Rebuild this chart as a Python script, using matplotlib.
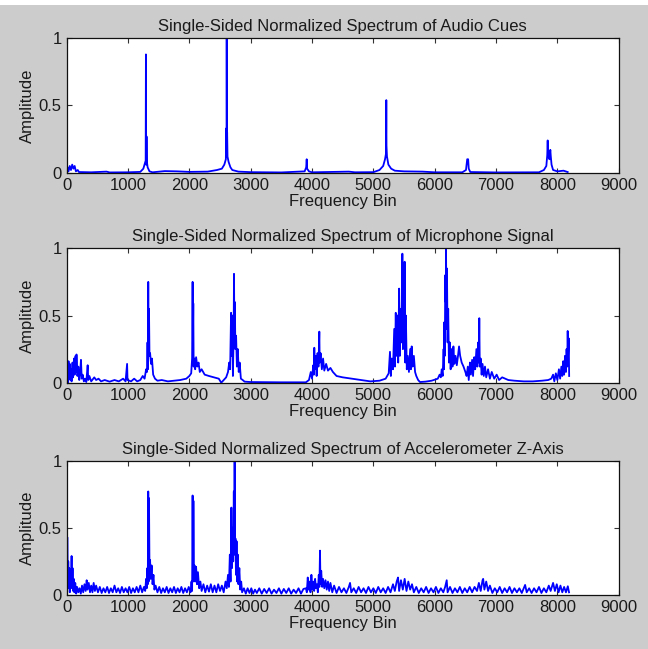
import matplotlib
matplotlib.use("Agg")
import matplotlib.pyplot as plt
from matplotlib.patches import Rectangle

# ---- data (frequency bin, normalized amplitude) ----
titles = ["Single-Sided Normalized Spectrum of Audio Cues",
          "Single-Sided Normalized Spectrum of Microphone Signal",
          "Single-Sided Normalized Spectrum of Accelerometer Z-Axis"]
x_ticks = [0, 1000, 2000, 3000, 4000, 5000, 6000, 7000, 8000, 9000]
y_ticks = [0, 0.5, 1]
y_tick_labels = ["0", "0.5", "1"]

audio = [(0, 0.02), (15, 0.04), (30, 0.01), (50, 0.05), (70, 0.02), (90, 0.06), (110, 0.03),
         (130, 0.05), (150, 0.01), (180, 0.02), (200, 0.005), (400, 0.003), (650, 0.008),
         (700, 0.002), (1000, 0.003), (1200, 0.006), (1250, 0.03), (1275, 0.07), (1288, 0.09),
         (1292, 0.88), (1296, 0.06), (1302, 0.27), (1308, 0.08), (1320, 0.04), (1350, 0.01),
         (1400, 0.003), (1600, 0.012), (1800, 0.01), (2000, 0.006), (2300, 0.008), (2450, 0.02),
         (2530, 0.03), (2570, 0.06), (2595, 0.1), (2603, 0.33), (2607, 0.15), (2609, 1.0),
         (2612, 0.2), (2616, 0.3), (2622, 0.12), (2640, 0.08), (2670, 0.04), (2700, 0.02),
         (2800, 0.008), (3000, 0.004), (3500, 0.002), (3880, 0.01), (3905, 0.04), (3913, 0.1),
         (3920, 0.03), (3950, 0.01), (4000, 0.003), (4600, 0.008), (4700, 0.003), (5000, 0.004),
         (5100, 0.02), (5160, 0.05), (5190, 0.1), (5205, 0.14), (5209, 0.36), (5211, 0.54),
         (5214, 0.2), (5222, 0.12), (5245, 0.06), (5290, 0.03), (5350, 0.015), (5500, 0.01),
         (5800, 0.008), (6000, 0.003), (6450, 0.003), (6510, 0.02), (6530, 0.1), (6545, 0.1),
         (6555, 0.03), (6580, 0.005), (7000, 0.002), (7700, 0.003), (7780, 0.02), (7820, 0.05),
         (7835, 0.13), (7842, 0.24), (7848, 0.12), (7860, 0.13), (7870, 0.1), (7885, 0.17),
         (7893, 0.12), (7905, 0.06), (7930, 0.02), (8000, 0.01), (8100, 0.015), (8168, 0.005)]

mic = [(0, 0.16), (8, 0.02), (16, 0.12), (24, 0.0), (30, 0.16), (40, 0.05), (50, 0.14), (60, 0.02),
       (70, 0.1), (80, 0.01), (95, 0.15), (105, 0.04), (120, 0.18), (130, 0.06), (145, 0.2),
       (152, 0.08), (160, 0.21), (175, 0.05), (190, 0.12), (205, 0.02), (220, 0.08), (233, 0.17),
       (245, 0.03), (260, 0.06), (280, 0.01), (300, 0.03), (320, 0.005), (342, 0.13), (352, 0.02),
       (370, 0.05), (400, 0.01), (450, 0.04), (480, 0.02), (520, 0.03), (560, 0.01), (620, 0.02),
       (700, 0.008), (780, 0.02), (850, 0.01), (920, 0.03), (960, 0.01), (985, 0.14), (992, 0.02),
       (1050, 0.01), (1100, 0.03), (1150, 0.01), (1200, 0.02), (1240, 0.05), (1270, 0.03),
       (1295, 0.1), (1310, 0.08), (1318, 0.3), (1324, 0.1), (1330, 0.75), (1336, 0.22),
       (1342, 0.55), (1350, 0.2), (1360, 0.22), (1375, 0.14), (1390, 0.18), (1410, 0.06),
       (1440, 0.03), (1480, 0.015), (1550, 0.02), (1650, 0.01), (1750, 0.015), (1850, 0.02),
       (1950, 0.03), (2000, 0.05), (2030, 0.07), (2045, 0.18), (2053, 0.75), (2058, 0.3),
       (2064, 0.59), (2070, 0.12), (2080, 0.18), (2095, 0.1), (2110, 0.19), (2130, 0.12),
       (2150, 0.15), (2170, 0.08), (2200, 0.1), (2250, 0.06), (2320, 0.05), (2400, 0.04),
       (2480, 0.03), (2520, 0.0), (2560, 0.02), (2600, 0.04), (2630, 0.08), (2650, 0.15),
       (2665, 0.1), (2680, 0.52), (2690, 0.2), (2700, 0.5), (2710, 0.05), (2722, 0.35),
       (2728, 0.81), (2735, 0.3), (2742, 0.6), (2750, 0.25), (2762, 0.35), (2775, 0.12),
       (2790, 0.25), (2805, 0.08), (2820, 0.15), (2840, 0.03), (2870, 0.02), (2900, 0.008),
       (3000, 0.005), (3500, 0.003), (3900, 0.003), (3950, 0.02), (3980, 0.08), (4000, 0.03),
       (4020, 0.13), (4030, 0.06), (4037, 0.26), (4045, 0.1), (4060, 0.2), (4075, 0.05),
       (4090, 0.22), (4105, 0.12), (4119, 0.38), (4125, 0.15), (4140, 0.22), (4160, 0.1),
       (4180, 0.18), (4200, 0.09), (4230, 0.14), (4260, 0.09), (4300, 0.11), (4340, 0.08),
       (4400, 0.05), (4500, 0.04), (4650, 0.03), (4800, 0.02), (4950, 0.01), (5100, 0.015),
       (5200, 0.03), (5250, 0.07), (5271, 0.23), (5285, 0.05), (5300, 0.18), (5320, 0.1),
       (5340, 0.4), (5352, 0.12), (5365, 0.52), (5378, 0.2), (5392, 0.5), (5405, 0.15),
       (5420, 0.7), (5432, 0.2), (5445, 0.55), (5458, 0.3), (5473, 0.96), (5482, 0.25),
       (5490, 0.85), (5500, 0.3), (5510, 0.9), (5520, 0.15), (5530, 0.5), (5545, 0.1),
       (5560, 0.2), (5580, 0.08), (5600, 0.25), (5612, 0.1), (5625, 0.27), (5640, 0.12),
       (5660, 0.2), (5680, 0.08), (5700, 0.05), (5730, 0.02), (5760, 0.005), (5850, 0.008),
       (5950, 0.015), (6050, 0.03), (6080, 0.06), (6100, 0.04), (6115, 0.1), (6130, 0.05),
       (6145, 0.25), (6152, 0.1), (6157, 0.45), (6165, 0.2), (6172, 0.8), (6180, 0.6),
       (6185, 1.0), (6192, 0.4), (6200, 0.85), (6210, 0.3), (6220, 0.55), (6232, 0.15),
       (6245, 0.3), (6260, 0.1), (6275, 0.25), (6290, 0.12), (6305, 0.27), (6320, 0.14),
       (6340, 0.2), (6360, 0.13), (6380, 0.2), (6397, 0.27), (6415, 0.2), (6440, 0.15),
       (6470, 0.12), (6500, 0.08), (6520, 0.05), (6540, 0.12), (6555, 0.02), (6575, 0.15),
       (6590, 0.06), (6610, 0.17), (6625, 0.05), (6645, 0.19), (6660, 0.1), (6680, 0.25),
       (6695, 0.12), (6710, 0.3), (6720, 0.15), (6727, 0.48), (6735, 0.12), (6750, 0.18),
       (6765, 0.06), (6780, 0.14), (6800, 0.05), (6820, 0.12), (6840, 0.04), (6870, 0.1),
       (6900, 0.03), (6930, 0.08), (6970, 0.03), (7010, 0.06), (7050, 0.02), (7100, 0.04),
       (7200, 0.02), (7300, 0.015), (7450, 0.01), (7600, 0.01), (7750, 0.015), (7850, 0.02),
       (7900, 0.03), (7930, 0.06), (7950, 0.01), (7975, 0.07), (8000, 0.02), (8025, 0.1),
       (8045, 0.03), (8065, 0.12), (8080, 0.05), (8095, 0.16), (8110, 0.06), (8125, 0.2),
       (8140, 0.08), (8150, 0.25), (8160, 0.12), (8168, 0.385), (8175, 0.2), (8185, 0.33),
       (8192, 0.05)]

accel = [(0, 1.0), (5, 0.05), (10, 0.43), (18, 0.1), (26, 0.25), (34, 0.05), (42, 0.2), (50, 0.02),
         (60, 0.18), (70, 0.06), (80, 0.29), (88, 0.05), (96, 0.2), (105, 0.03), (115, 0.12),
         (125, 0.02), (140, 0.09), (155, 0.01), (170, 0.06), (190, 0.02), (210, 0.05), (230, 0.01),
         (250, 0.07), (270, 0.02), (290, 0.08), (310, 0.03), (326, 0.11), (340, 0.04), (360, 0.09),
         (380, 0.02), (400, 0.07), (420, 0.02), (440, 0.09), (460, 0.03), (480, 0.07), (510, 0.02),
         (540, 0.06), (570, 0.015), (600, 0.05), (630, 0.02), (660, 0.06), (690, 0.015),
         (720, 0.05), (750, 0.02), (780, 0.07), (810, 0.02), (840, 0.05), (870, 0.015), (900, 0.06),
         (930, 0.02), (960, 0.05), (990, 0.02), (1020, 0.06), (1050, 0.015), (1080, 0.05),
         (1110, 0.02), (1140, 0.06), (1170, 0.02), (1200, 0.07), (1230, 0.02), (1260, 0.06),
         (1280, 0.03), (1295, 0.12), (1305, 0.05), (1315, 0.2), (1322, 0.08), (1330, 0.77),
         (1336, 0.1), (1342, 0.72), (1350, 0.2), (1360, 0.26), (1370, 0.12), (1385, 0.22),
         (1400, 0.08), (1415, 0.15), (1430, 0.04), (1450, 0.07), (1480, 0.02), (1510, 0.06),
         (1540, 0.015), (1570, 0.05), (1600, 0.02), (1630, 0.06), (1660, 0.015), (1690, 0.05),
         (1720, 0.02), (1750, 0.06), (1780, 0.015), (1810, 0.05), (1840, 0.02), (1870, 0.06),
         (1900, 0.015), (1930, 0.05), (1960, 0.02), (1990, 0.06), (2020, 0.02), (2035, 0.1),
         (2045, 0.03), (2053, 0.74), (2060, 0.1), (2066, 0.7), (2075, 0.15), (2085, 0.22),
         (2095, 0.1), (2110, 0.21), (2125, 0.08), (2140, 0.17), (2160, 0.05), (2180, 0.1),
         (2200, 0.03), (2230, 0.08), (2260, 0.02), (2290, 0.07), (2320, 0.025), (2350, 0.08),
         (2380, 0.02), (2410, 0.07), (2440, 0.02), (2470, 0.08), (2500, 0.03), (2530, 0.07),
         (2560, 0.02), (2590, 0.1), (2610, 0.05), (2630, 0.15), (2645, 0.06), (2660, 0.3),
         (2672, 0.1), (2685, 0.65), (2695, 0.2), (2705, 0.5), (2715, 0.25), (2725, 0.77),
         (2732, 0.3), (2738, 1.0), (2744, 0.35), (2752, 0.42), (2760, 0.15), (2770, 0.4),
         (2780, 0.1), (2790, 0.3), (2800, 0.08), (2815, 0.2), (2830, 0.04), (2845, 0.1),
         (2860, 0.02), (2890, 0.05), (2920, 0.01), (2950, 0.05), (2980, 0.015), (3010, 0.05),
         (3040, 0.01), (3070, 0.04), (3100, 0.015), (3140, 0.05), (3180, 0.01), (3220, 0.045),
         (3260, 0.015), (3300, 0.05), (3340, 0.01), (3380, 0.04), (3420, 0.015), (3460, 0.05),
         (3500, 0.01), (3540, 0.045), (3580, 0.015), (3620, 0.05), (3660, 0.01), (3700, 0.04),
         (3740, 0.015), (3780, 0.05), (3820, 0.01), (3860, 0.045), (3900, 0.05), (3915, 0.02),
         (3930, 0.13), (3945, 0.04), (3960, 0.1), (3975, 0.02), (3990, 0.15), (4005, 0.04),
         (4020, 0.1), (4035, 0.03), (4050, 0.12), (4065, 0.05), (4080, 0.08), (4095, 0.02),
         (4110, 0.15), (4120, 0.06), (4130, 0.33), (4138, 0.08), (4150, 0.18), (4165, 0.06),
         (4180, 0.12), (4200, 0.05), (4220, 0.11), (4240, 0.04), (4260, 0.1), (4280, 0.03),
         (4300, 0.09), (4330, 0.02), (4360, 0.07), (4400, 0.015), (4440, 0.06), (4480, 0.02),
         (4520, 0.05), (4560, 0.015), (4600, 0.06), (4620, 0.09), (4640, 0.02), (4680, 0.05),
         (4720, 0.015), (4760, 0.06), (4800, 0.02), (4840, 0.05), (4880, 0.015), (4920, 0.06),
         (4960, 0.02), (5000, 0.05), (5040, 0.015), (5080, 0.06), (5120, 0.02), (5160, 0.05),
         (5200, 0.015), (5240, 0.06), (5280, 0.02), (5320, 0.08), (5350, 0.03), (5380, 0.1),
         (5402, 0.13), (5420, 0.03), (5450, 0.11), (5480, 0.04), (5510, 0.12), (5540, 0.03),
         (5570, 0.1), (5600, 0.04), (5630, 0.08), (5660, 0.02), (5700, 0.06), (5740, 0.015),
         (5780, 0.05), (5820, 0.02), (5860, 0.06), (5900, 0.015), (5940, 0.05), (5980, 0.02),
         (6020, 0.06), (6060, 0.015), (6100, 0.05), (6140, 0.02), (6170, 0.06), (6196, 0.11),
         (6210, 0.02), (6250, 0.06), (6290, 0.015), (6330, 0.05), (6370, 0.02), (6410, 0.06),
         (6450, 0.015), (6490, 0.05), (6530, 0.02), (6570, 0.06), (6610, 0.02), (6650, 0.06),
         (6690, 0.03), (6720, 0.09), (6750, 0.03), (6780, 0.11), (6790, 0.12), (6810, 0.04),
         (6840, 0.1), (6870, 0.03), (6900, 0.07), (6940, 0.015), (6980, 0.05), (7020, 0.02),
         (7060, 0.06), (7100, 0.015), (7140, 0.05), (7180, 0.02), (7220, 0.06), (7260, 0.015),
         (7300, 0.05), (7340, 0.02), (7380, 0.05), (7420, 0.015), (7474, 0.075), (7500, 0.02),
         (7540, 0.05), (7580, 0.015), (7620, 0.05), (7660, 0.02), (7700, 0.06), (7740, 0.015),
         (7780, 0.05), (7820, 0.02), (7860, 0.07), (7890, 0.03), (7930, 0.09), (7960, 0.03),
         (7990, 0.08), (8020, 0.02), (8050, 0.07), (8080, 0.02), (8110, 0.06), (8140, 0.02),
         (8170, 0.065), (8190, 0.02)]

series = [audio, mic, accel]

# ---- figure, MATLAB-like look ----
plt.rcParams['font.family'] = ['Liberation Sans', 'DejaVu Sans']
plt.rcParams['font.size'] = 12

fig = plt.figure(figsize=(6.48, 6.49), dpi=100, facecolor='#cccccc')
fig.add_artist(Rectangle((0, 1 - 5 / 649), 1, 5 / 649, transform=fig.transFigure,
                         facecolor='white', edgecolor='none'))

# axes boxes in figure fractions
boxes = [[0.1029, 0.7339, 0.8519, 0.2071],
         [0.1029, 0.4103, 0.8519, 0.2071],
         [0.1029, 0.0832, 0.8519, 0.2072]]

for box, title, data in zip(boxes, titles, series):
    ax = fig.add_axes(box)
    xs = [p[0] for p in data]
    ys = [p[1] for p in data]
    ax.plot(xs, ys, color='#0000ff', linewidth=1.3)
    ax.set_xlim(0, 9000)
    ax.set_ylim(0, 1)
    ax.set_xticks(x_ticks)
    ax.set_yticks(y_ticks)
    ax.set_yticklabels(y_tick_labels)
    ax.tick_params(direction='in', top=True, right=True, length=3.8, width=0.8,
                   color='#333333', pad=3.5, labelsize=12, labelcolor='#1a1a1a')
    for s in ax.spines.values():
        s.set_linewidth(0.9)
        s.set_color('#111111')
    ax.set_title(title, fontsize=12, pad=5, color='#1a1a1a')
    ax.set_xlabel('Frequency Bin', fontsize=12, labelpad=1, color='#1a1a1a')
    ax.set_ylabel('Amplitude', fontsize=12, labelpad=3, color='#1a1a1a')

fig.savefig('out.png', dpi=100, facecolor=fig.get_facecolor())
